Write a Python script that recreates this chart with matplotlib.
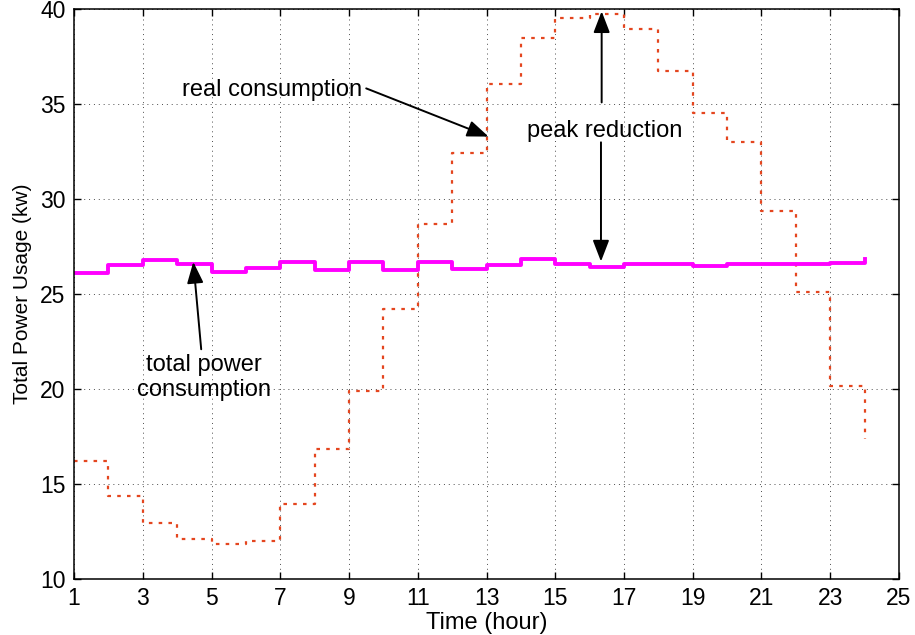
import matplotlib
matplotlib.use("Agg")
import matplotlib.pyplot as plt

# ── Data ─────────────────────────────────────────────────────────────────────
hours = list(range(1, 25))

real_consumption = [16.2, 14.35, 12.95, 12.1, 11.85, 12.0, 13.95, 16.85,
                    19.9, 24.2, 28.7, 32.45, 36.05, 38.5, 39.55, 39.75,
                    38.95, 36.75, 34.55, 33.0, 29.4, 25.1, 20.15, 17.35]

total_power = [26.14, 26.56, 26.8, 26.6, 26.19, 26.4, 26.67, 26.28,
               26.7, 26.26, 26.67, 26.35, 26.52, 26.84, 26.58, 26.42,
               26.6, 26.61, 26.49, 26.6, 26.58, 26.58, 26.63, 26.88]

x_ticks = list(range(1, 26, 2))
y_ticks = list(range(10, 41, 5))

# ── Style ────────────────────────────────────────────────────────────────────
COLOUR_REAL  = "#E4461F"
COLOUR_TOTAL = "#FF00FF"
FONT = "Liberation Sans"
FS = 17

plt.rcParams["font.family"] = [FONT, "DejaVu Sans"]

fig = plt.figure(figsize=(9.15, 6.35), dpi=100)
ax = fig.add_axes([0.0809, 0.0882, 0.9016, 0.897])

ax.step(hours, real_consumption, where="post", color=COLOUR_REAL,
        lw=1.6, linestyle=(0, (1.6, 2.8)))
ax.step(hours, total_power, where="post", color=COLOUR_TOTAL, lw=2.8)

ax.set_xlim(1, 25)
ax.set_ylim(10, 40)
ax.set_xticks(x_ticks)
ax.set_yticks(y_ticks)
ax.tick_params(direction="in", length=5, width=1, labelsize=16.5,
               top=True, right=True)
ax.tick_params(axis="x", pad=6)
ax.tick_params(axis="y", pad=6)
ax.grid(True, color="black", linestyle=(0, (1, 4)), linewidth=0.7, alpha=0.7)
for sp in ax.spines.values():
    sp.set_linewidth(1.1)

ax.set_xlabel("Time (hour)", fontsize=FS, labelpad=1)
ax.set_ylabel("Total Power Usage (kw)", fontsize=15, labelpad=6)

# ── Annotations ──────────────────────────────────────────────────────────────
arrow = dict(arrowstyle="-|>,head_length=1.3,head_width=0.5",
             color="black", lw=1.4, shrinkA=0, shrinkB=0)

ax.text(6.77, 35.75, "real consumption", fontsize=FS, ha="center", va="center")
ax.annotate("", xy=(13.06, 33.3), xytext=(9.5, 35.84), arrowprops=arrow)

ax.text(16.44, 33.6, "peak reduction", fontsize=FS, ha="center", va="center")
ax.annotate("", xy=(16.35, 39.9), xytext=(16.35, 35.1), arrowprops=arrow)
ax.annotate("", xy=(16.33, 26.72), xytext=(16.33, 33.0), arrowprops=arrow)

ax.text(4.79, 20.6, "total power\nconsumption", fontsize=FS,
        ha="center", va="center", linespacing=1.15)
ax.annotate("", xy=(4.47, 26.7), xytext=(4.7, 22.1), arrowprops=arrow)

fig.savefig("out.png", dpi=100)
